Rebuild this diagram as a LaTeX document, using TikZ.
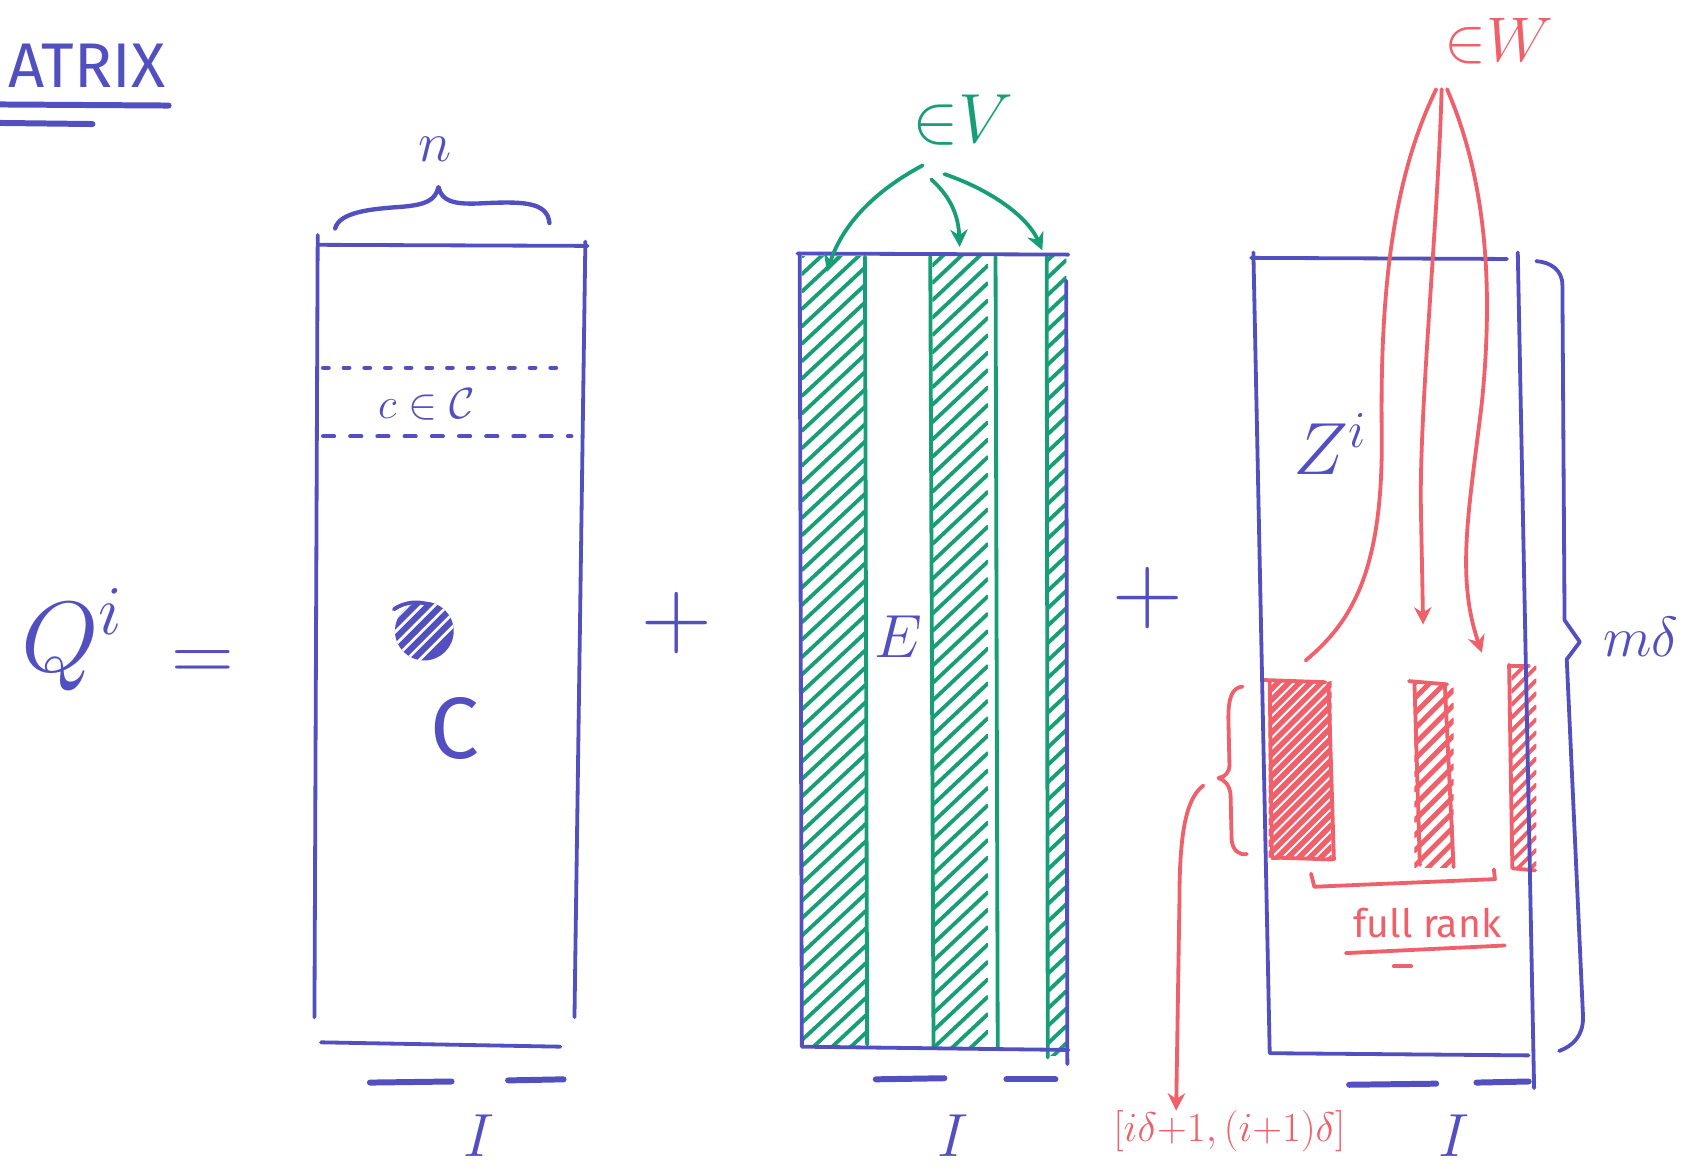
\RequirePackage{fix-cm}
\documentclass[tikz,border=0pt]{standalone}
\usepackage{fontspec}
\newfontfamily\hand{Fira Sans}
\usetikzlibrary{arrows.meta}
\definecolor{pblue}{RGB}{82,80,192}
\definecolor{pgreen}{RGB}{24,158,118}
\definecolor{pred}{RGB}{240,96,106}
\newcommand\myfs[1]{\fontsize{#1}{#1}\selectfont}
\begin{document}
\begin{tikzpicture}[x=1pt,y=-1pt,line cap=round,line join=round,
  bl/.style={draw=pblue,line width=3.5pt},
  blthick/.style={draw=pblue,line width=5.5pt},
  gr/.style={draw=pgreen,line width=3.5pt},
  rd/.style={draw=pred,line width=3.5pt},
  ghatch/.style={draw=pgreen,line width=3.5pt},
  rhatch/.style={draw=pred,line width=5pt},
  garrow/.style={draw=pgreen,line width=3.5pt,-{Stealth[length=16pt,width=16pt]}},
  rarrow/.style={draw=pred,line width=3.5pt,-{Stealth[length=16pt,width=16pt]}},
  lbl/.style={inner sep=0pt}]
\useasboundingbox[fill=white] (0,0) rectangle (1568,1080);

% ---------- title ----------
\node[lbl,pblue,font=\hand\myfs{58}] (title) at (80,60) {ATRIX};
\draw[blthick] (0,96) -- (155,97);
\draw[blthick] (0,113) -- (85,114);

% ---------- Q^i = ----------
\node[lbl,pblue,font=\myfs{92}] (Q) at (66,588) {$Q^{i}$};
\node[lbl,pblue,font=\myfs{80}] (eq) at (186,612) {$=$};

% ---------- matrix C ----------
\draw[bl] (293,225) -- (540,226);
\draw[bl] (292,216) -- (289,935);
\draw[bl] (538,222) -- (528,935);
\draw[bl,line width=4pt] (308,210) .. controls (312,195) and (340,192) .. (370,190)
   .. controls (392,188) and (400,184) .. (403,172)
   .. controls (406,184) and (415,188) .. (440,187)
   .. controls (480,185) and (503,185) .. (505,205);
\node[lbl,pblue,font=\myfs{52}] (n) at (400,137) {$n$};
\draw[bl,line width=4pt,dash pattern=on 5pt off 14pt] (297,338) -- (525,338);
\draw[bl,line width=4pt,dash pattern=on 10pt off 15pt] (297,401) -- (525,401);
\node[lbl,pblue,font=\myfs{40}] (cC) at (392,372) {$c\in\mathcal{C}$};
\begin{scope}
  \clip (390,580) circle[radius=27pt];
  \fill[pblue] (360,550) rectangle (420,610);
  \foreach \k in {0,12,...,72}
    \draw[white,line width=2.5pt] (360,590+\k-30) -- (420,530+\k-30);
\end{scope}
\draw[bl] (362,560) .. controls (372,553) and (385,552) .. (395,556);
\node[lbl,pblue,font=\hand\myfs{80}] (Cl) at (418,670) {C};
\draw[bl] (295,958) -- (515,962);
\draw[blthick] (340,995) -- (415,994);
\draw[blthick] (467,993) -- (518,992);
\node[lbl,pblue,font=\myfs{56}] (I1) at (440,1044) {$I$};

\node[lbl,pblue,font=\myfs{90}] (plus1) at (622,573) {$+$};

% ---------- matrix E ----------
\begin{scope}
  \clip (737,236) rectangle (796,962);
  \foreach \y in {236,252,...,1040}
    \draw[ghatch] (737,\y) -- (796,\y-55);
\end{scope}
\begin{scope}
  \clip (857,236) rectangle (908,962);
  \foreach \y in {244,260,...,1040}
    \draw[ghatch] (857,\y) -- (908,\y-48);
\end{scope}
\begin{scope}
  \clip (962,236) rectangle (980,970);
  \foreach \y in {240,256,...,1040}
    \draw[ghatch] (962,\y) -- (980,\y-17);
\end{scope}
\draw[gr] (795,236) -- (797,960);
\draw[gr] (855,236) -- (858,962);
\draw[gr] (915,236) -- (917,962);
\draw[gr] (962,236) -- (963,972);
\draw[bl] (733,233) -- (982,234);
\draw[bl] (735,233) -- (737,962);
\draw[bl] (737,962) -- (982,965);
\draw[bl] (980,258) -- (981,978);
\node[lbl,pblue,font=\myfs{56}] (E) at (826,585) {$E$};
\draw[blthick] (805,992) -- (868,991);
\draw[blthick] (925,992) -- (970,992);
\node[lbl,pblue,font=\myfs{56}] (I2) at (876,1044) {$I$};

\node[lbl,pgreen,font=\myfs{64}] (eV) at (885,110) {${\in}V$};
\coordinate (gs1) at (848,152);
\coordinate (gs2) at (856,165);
\coordinate (gs3) at (868,160);
\coordinate (gt1) at (760,250);
\coordinate (gt2) at (882,227);
\coordinate (gt3) at (958,230);
\draw[garrow] (gs1) .. controls (805,175) and (775,205) .. (gt1);
\draw[garrow] (gs2) .. controls (875,182) and (881,200) .. (gt2);
\draw[garrow] (gs3) .. controls (912,175) and (945,200) .. (gt3);

\node[lbl,pblue,font=\myfs{90}] (plus2) at (1055,550) {$+$};

% ---------- matrix Z ----------
\begin{scope}
  \clip (1166,626) rectangle (1224,790);
  \foreach \y in {626,636,...,860}
    \draw[rhatch] (1166,\y) -- (1224,\y-58);
\end{scope}
\draw[rd] (1162,625) -- (1218,627);
\draw[rd] (1167,626) -- (1169,788) -- (1225,790);
\draw[rd] (1221,628) -- (1226,790);
\begin{scope}
  \clip (1300,628) rectangle (1336,797);
  \foreach \y in {628,642,...,860}
    \draw[rhatch,line width=4.5pt] (1300,\y) -- (1336,\y-36);
\end{scope}
\draw[rd] (1295,626) -- (1330,629);
\draw[rd] (1300,627) -- (1305,795);
\draw[rd] (1328,630) -- (1336,797);
\begin{scope}
  \clip (1389,612) rectangle (1412,798);
  \foreach \y in {612,624,...,840}
    \draw[rhatch,line width=3.5pt] (1389,\y) -- (1412,\y-23);
\end{scope}
\draw[rd] (1387,611) -- (1390,798) -- (1411,800);
\draw[rd] (1388,612) -- (1405,612);

\draw[bl] (1150,237) -- (1385,238);
\draw[bl] (1152,232) -- (1167,968);
\draw[bl] (1168,968) -- (1405,970);
\draw[bl] (1395,232) -- (1410,1000);
\draw[bl] (1412,240) .. controls (1425,241) and (1436,248) .. (1436,262)
   -- (1438,570) -- (1452,590) -- (1440,606) -- (1455,935)
   .. controls (1455,952) and (1446,961) .. (1433,966);
\node[lbl,pblue,font=\myfs{52}] (md) at (1508,585) {$m\delta$};
\node[lbl,pblue,font=\myfs{68}] (Z) at (1222,408) {$Z^{i}$};
\draw[blthick] (1240,997) -- (1320,996);
\draw[blthick] (1357,995) -- (1405,994);
\node[lbl,pblue,font=\myfs{56}] (I3) at (1336,1044) {$I$};

% red annotations
\node[lbl,pred,font=\myfs{58}] (eW) at (1378,38) {${\in}W$};
\coordinate (rs1) at (1320,82);
\coordinate (rs2) at (1325,82);
\coordinate (rs3) at (1330,82);
\coordinate (rt1) at (1200,607);
\coordinate (rt2) at (1308,574);
\coordinate (rt3) at (1362,600);
\draw[rd] (rs1) .. controls (1282,160) and (1268,260) .. (1270,400)
   .. controls (1271,520) and (1245,570) .. (rt1);
\draw[rarrow] (rs2) .. controls (1322,200) and (1304,380) .. (1306,470) -- (rt2);
\draw[rarrow] (rs3) .. controls (1368,170) and (1372,270) .. (1362,370)
   .. controls (1350,470) and (1338,530) .. (rt3);

\draw[rd] (1142,631) .. controls (1132,632) and (1129,642) .. (1129,660)
   -- (1130,703) .. controls (1130,710) and (1126,714) .. (1120,715)
   .. controls (1126,717) and (1130,722) .. (1131,730)
   -- (1132,772) .. controls (1133,782) and (1139,786) .. (1146,785);
\coordinate (bs) at (1106,722);
\node[lbl,pred,font=\myfs{38}] (rng) at (1130,1040) {$[i\delta{+}1,(i{+}1)\delta]$};
\draw[rarrow] (bs) .. controls (1088,735) and (1084,775) .. (1084,830) -- (rng.north -| 1081,0);
\draw[rd] (1205,803) -- (1208,815) -- (1374,808) -- (1373,799);
\node[lbl,pred,font=\hand\myfs{36}] (fr) at (1312,848) {full rank};
\draw[rd] (1237,876) -- (1383,869);
\draw[rd] (1281,888) -- (1297,888);
\end{tikzpicture}
\end{document}
